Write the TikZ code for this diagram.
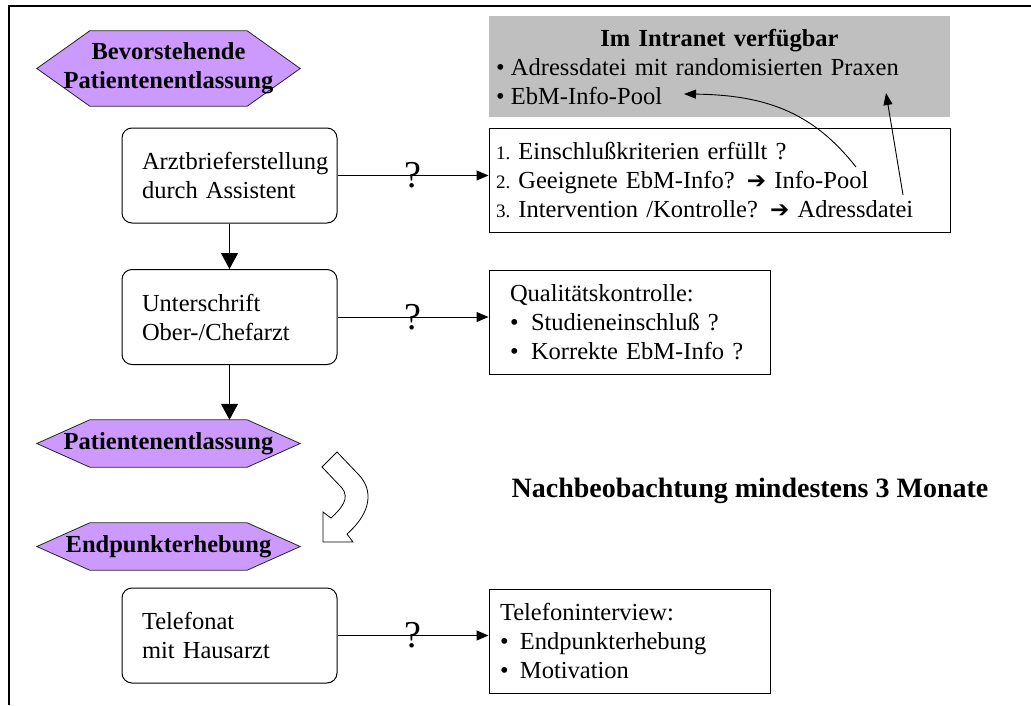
\documentclass[tikz,border=0pt]{standalone}
\usepackage[rgb]{xcolor}
\usepackage{fontspec}
\setmainfont{Liberation Serif}
\newfontfamily\dingfont{DejaVu Sans}
\usepackage{tikz}
\usetikzlibrary{arrows.meta}
\usetikzlibrary{backgrounds}
\newdimen\hexCut
\setlength{\hexCut}{53pt}
\definecolor{hexlila}{HTML}{CC99FF}
\definecolor{poolgray}{gray}{0.75}
\hfuzz=40pt
\hyphenpenalty=10000
\exhyphenpenalty=10000
\newcommand{\bul}[1]{\makebox[#1][l]{\textbullet}}
\newcommand{\nr}[1]{{\fontsize{19}{29}\selectfont #1.}~}
\newcommand{\dingarrow}{{\dingfont\fontsize{23}{29}\selectfont ➔}}
\newcommand{\hexback}[1]{%
  \path[hexline] (#1.west) -- ([xshift=\hexCut]#1.north west)
    -- ([xshift=-\hexCut]#1.north east) -- (#1.east)
    -- ([xshift=-\hexCut]#1.south east) -- ([xshift=\hexCut]#1.south west) -- cycle;}
\tikzset{
  hexnode/.style={minimum width=263pt, inner sep=0pt, align=center, font=\bfseries},
  hexline/.style={fill=hexlila, draw=black!85, line width=0.8pt},
  stepbox/.style={draw, rounded corners=10pt, line width=1pt, minimum width=215pt,
    minimum height=95pt, text width=175pt, inner xsep=20pt, align=left},
  infobox/.style={draw, line width=1pt, minimum height=104pt, align=left},
  conn/.style={line width=1pt, -{Triangle[length=12pt,width=10pt]}},
  downarrow/.style={line width=1pt, -{Triangle[length=16pt,width=17pt]}},
  poolarrow/.style={line width=0.9pt, -{Triangle[length=12pt,width=9pt]}},
  qmark/.style={inner sep=0pt, font=\fontsize{38}{38}\selectfont},
}

\begin{document}
\fontsize{24.5}{29}\selectfont
\begin{tikzpicture}[x=1pt, y=-1pt]
    \useasboundingbox (0,0) rectangle (1031,705);
    \draw[line width=1.5pt] (9,705) -- (9,6) -- (1031,6);
    % left column
    \node[hexnode, minimum height=75pt] (bev) at (168.5,68.5) {Bevorstehende\\Patientenentlassung};
    \node[stepbox] (arzt) at (229.5,175.5) {Arztbrieferstellung\\durch Assistent};
    \node[stepbox] (unter) at (229.5,317) {Unterschrift\\Ober-/Chefarzt};
    \node[hexnode, minimum height=47pt] (entl) at (168.5,443.5) {Patientenentlassung};
    \node[hexnode, minimum height=47pt] (endp) at (168.5,546.5) {Endpunkterhebung};
    \node[stepbox] (tel) at (229.5,635.5) {Telefonat\\mit Hausarzt};
    \begin{scope}[on background layer]
      \hexback{bev}
      \hexback{entl}
      \hexback{endp}
    \end{scope}
    % right column
    \node[infobox, fill=poolgray, draw=none, text width=447pt, inner xsep=7pt, minimum height=101pt]
      (pool) at (719.5,66.5)
      {\makebox[\linewidth]{\bfseries Im Intranet verfügbar}\\
       \bul{15pt}Adressdatei mit randomisierten Praxen\\
       \bul{15pt}EbM-Info-Pool};
    \node[infobox, text width=447pt, inner xsep=7pt] (krit) at (719.5,180)
      {\nr{1}Einschlußkriterien erfüllt ?\\
       \nr{2}Geeignete EbM-Info? \dingarrow{} Info-Pool\\
       \nr{3}Intervention /Kontrolle? \dingarrow{} Adressdatei};
    \node[infobox, text width=239pt, inner xsep=21pt] (qual) at (629.5,322)
      {Qualitätskontrolle:\\
       \bul{21pt}Studieneinschluß ?\\
       \bul{21pt}Korrekte EbM-Info ?};
    \node[infobox, text width=259pt, inner xsep=11pt] (telint) at (629.5,641)
      {Telefoninterview:\\
       \bul{20pt}Endpunkterhebung\\
       \bul{20pt}Motivation};
    \node[font=\bfseries\fontsize{28}{32}\selectfont] (nach) at (750,491) {Nachbeobachtung mindestens 3 Monate};
    % connectors
    \draw[downarrow] (arzt.south) -- (unter.north);
    \draw[downarrow] (unter.south) -- (unter.south |- entl.north);
    \draw[conn] (arzt.east) -- node[qmark] {?} (arzt.east -| krit.west);
    \draw[conn] (unter.east) -- node[qmark] {?} (unter.east -| qual.west);
    \draw[conn] (tel.east) -- node[qmark] {?} (tel.east -| telint.west);
    \coordinate (poolStart) at (856,167);
    \coordinate (poolTip) at (684,94);
    \coordinate (adrStart) at (903,195);
    \coordinate (adrTip) at (886,93);
    \draw[poolarrow] (poolStart) .. controls (815,115) and (770,95) .. (poolTip);
    \draw[poolarrow] (adrStart) -- (adrTip);
    % bent block arrow
    \draw[fill=white, line width=0.8pt]
      (322,467) -- (337,452) -- (359,475) .. controls (373,490) and (372,512) .. (347,534)
      -- (353,542) -- (323,542) -- (323,512) -- (331,518)
      .. controls (342,508) and (350,498) .. (342,488) -- cycle;
\end{tikzpicture}
\end{document}
